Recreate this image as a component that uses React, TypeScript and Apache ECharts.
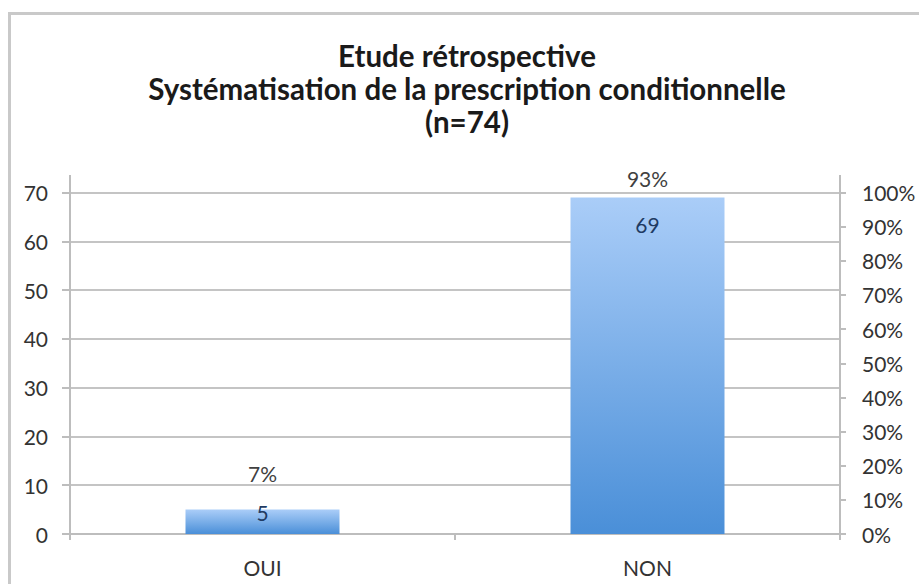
import React, { useEffect, useRef } from "react";
import * as echarts from "echarts";

const titleLines = [
  "Etude rétrospective",
  "Systématisation de la prescription conditionnelle",
  "(n=74)",
];
const categories = ["OUI", "NON"];
const counts = [5, 69];
const total = 74;
const leftTicks = { min: 0, max: 70, interval: 10 };
const rightTicks = { min: 0, max: 100, interval: 10 };

const FONT = "Lato, 'DejaVu Sans', sans-serif";

export default function App() {
  const ref = useRef<HTMLDivElement>(null);
  useEffect(() => {
    document.body.style.margin = "0";
    if (!ref.current) return;
    const chart = echarts.init(ref.current, undefined, { renderer: "svg" });
    const pct = counts.map((v) => (v / total) * 100);
    const gridLeft = 70;
    const gridRight = 79;
    const gridTop = 192.5;
    const gridBottom = 50;
    const W = 919;
    const axisColor = "#bdbdbd";
    const option: any = {
      animation: false,
      backgroundColor: "#ffffff",
      textStyle: { fontFamily: FONT },
      title: {
        text: titleLines.join("\n"),
        left: 467,
        top: 39,
        padding: 0,
        textAlign: "center",
        textStyle: {
          fontFamily: FONT,
          fontWeight: "bold",
          fontSize: 29.5,
          lineHeight: 33,
          color: "#1a1a1a",
        },
      },
      graphic: [
        {
          type: "rect",
          shape: { x: 9.5, y: 13.5, width: 1000, height: 700 },
          style: { fill: "none", stroke: "#c9c9c9", lineWidth: 3 },
          silent: true,
        },
        {
          type: "line",
          shape: { x1: gridLeft, y1: 175, x2: gridLeft, y2: gridTop },
          style: { stroke: axisColor, lineWidth: 2 },
        },
        {
          type: "line",
          shape: { x1: W - gridRight, y1: 175, x2: W - gridRight, y2: gridTop },
          style: { stroke: axisColor, lineWidth: 2 },
        },
      ],
      grid: {
        left: gridLeft,
        right: gridRight,
        top: gridTop,
        bottom: gridBottom,
        containLabel: false,
      },
      xAxis: {
        type: "category",
        data: categories,
        axisLine: { lineStyle: { color: axisColor, width: 2 } },
        axisTick: { show: true, length: 6, lineStyle: { color: axisColor, width: 2 } },
        axisLabel: {
          margin: 23,
          fontSize: 21,
          color: "#333333",
          fontFamily: FONT,
        },
      },
      yAxis: [
        {
          type: "value",
          min: leftTicks.min,
          max: leftTicks.max,
          interval: leftTicks.interval,
          position: "left",
          axisLine: { show: true, lineStyle: { color: axisColor, width: 2 } },
          axisTick: { show: true, length: 8, lineStyle: { color: axisColor, width: 2 } },
          splitLine: { show: true, lineStyle: { color: "#c4c4c4", width: 2 } },
          axisLabel: {
            margin: 22,
            fontSize: 21,
            color: "#333333",
            fontFamily: FONT,
            padding: [8, 0, 0, 0],
          },
        },
        {
          type: "value",
          min: rightTicks.min,
          max: rightTicks.max,
          interval: rightTicks.interval,
          position: "right",
          axisLine: { show: true, lineStyle: { color: axisColor, width: 2 } },
          axisTick: { show: true, length: 6, lineStyle: { color: axisColor, width: 2 } },
          splitLine: { show: false },
          axisLabel: {
            margin: 22,
            fontSize: 21,
            color: "#333333",
            fontFamily: FONT,
            padding: [10, 0, 0, 0],
            formatter: (v: number) => `${v}%`,
          },
        },
      ],
      series: [
        {
          name: "pct",
          type: "bar",
          yAxisIndex: 1,
          barWidth: "40%",
          barGap: "-100%",
          itemStyle: { color: "rgba(0,0,0,0)" },
          data: pct,
          label: {
            show: true,
            position: "top",
            distance: 27,
            fontSize: 21,
            color: "#404040",
            fontFamily: FONT,
            formatter: (p: any) => `${Math.round(p.value)}%`,
          },
          z: 3,
        },
        {
          name: "count",
          type: "bar",
          yAxisIndex: 0,
          barWidth: "40%",
          barGap: "-100%",
          itemStyle: {
            color: new echarts.graphic.LinearGradient(0, 0, 0, 1, [
              { offset: 0, color: "#aacdf8" },
              { offset: 1, color: "#4a8fd8" },
            ]),
          },
          data: counts.map((v) => ({
            value: v,
            label: { distance: v < 10 ? -8 : 17 },
          })),
          label: {
            show: true,
            position: "insideTop",
            fontSize: 21,
            color: "#1f3b63",
            fontFamily: FONT,
          },
          z: 2,
        },
      ],
    };
    chart.setOption(option);
    return () => chart.dispose();
  }, []);
  return <div ref={ref} style={{ width: 919, height: 584 }} />;
}
